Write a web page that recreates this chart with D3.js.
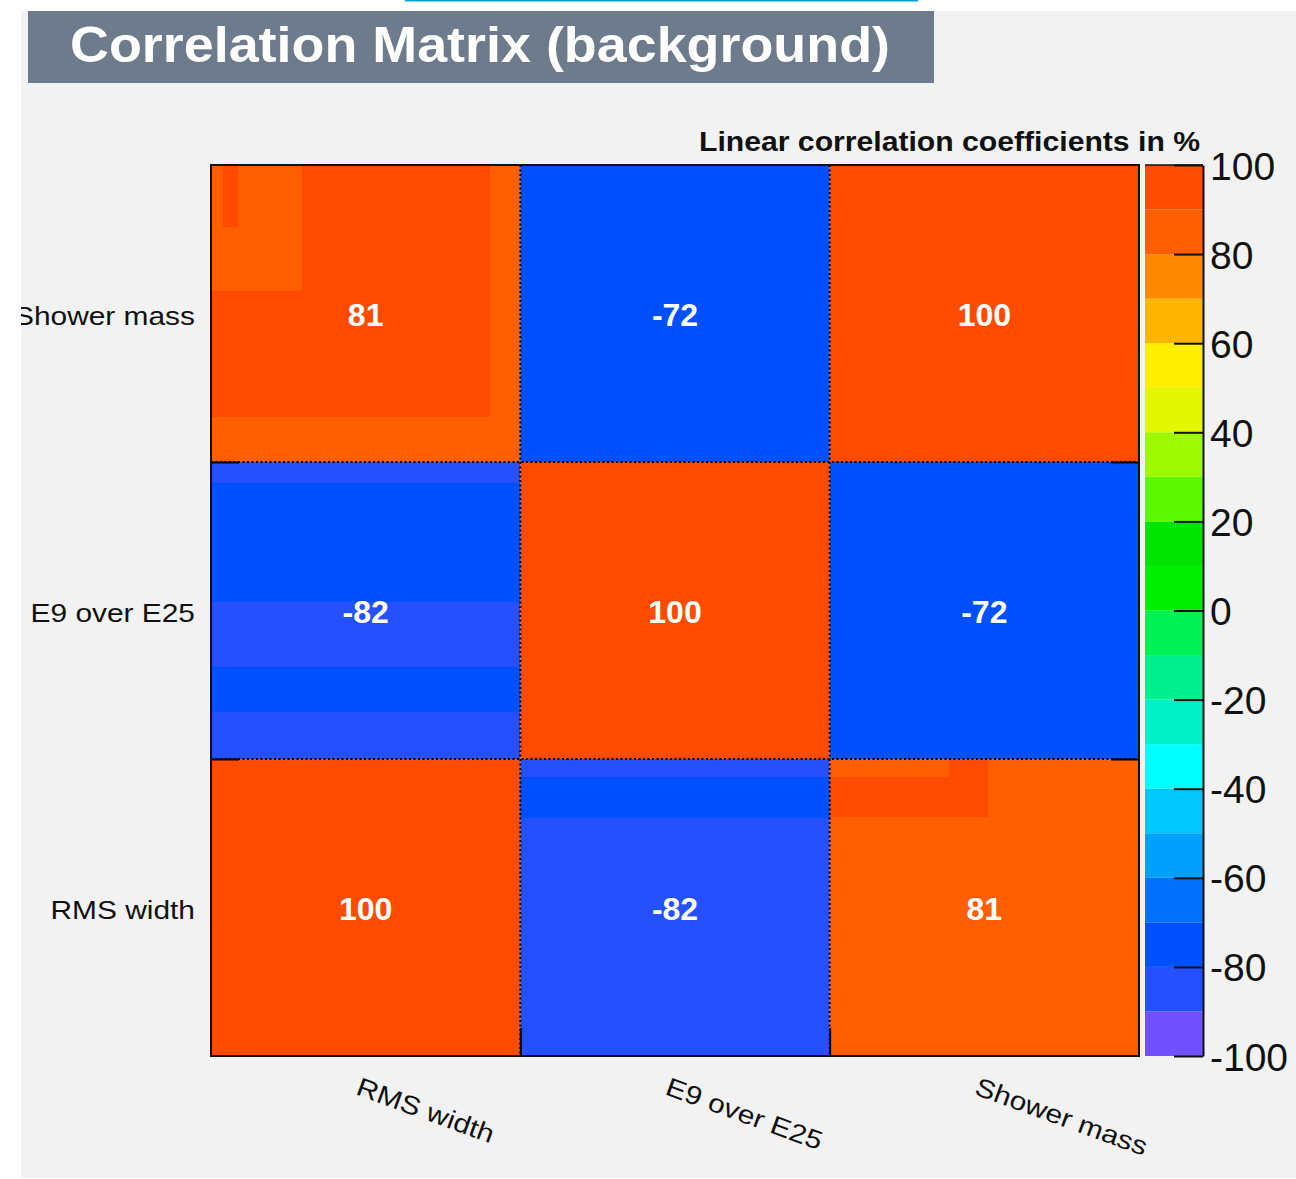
<!DOCTYPE html>
<html>
<head>
<meta charset="utf-8">
<script src="https://cdn.jsdelivr.net/npm/d3@7"></script>
<style>
  body { margin: 0; background: #ffffff; }
  text { font-family: 'Liberation Sans', Arial, Helvetica, sans-serif; }
  .cellText { fill: #ffffff; font-weight: bold; font-size: 32px; }
  .varLabel { fill: #111111; font-size: 26px; }
  .zAxis text { font-size: 39px; fill: #111111; font-family: 'Liberation Sans', Arial, sans-serif; }
  .gridline { stroke: #000000; stroke-width: 2; stroke-dasharray: 2,2.5; }
</style>
</head>
<body>
<div id="chart"></div>
<script>
var chartTitle = 'Correlation Matrix (background)'
var zAxisLabel = 'Linear correlation coefficients in %'

// variables, bottom-to-top on y and left-to-right on x
var variables = ['RMS width', 'E9 over E25', 'Shower mass']

// correlation in %, rows follow the y order, columns the x order
var corrRMS    = [100, -82, 81]
var corrE9     = [-82, 100, -72]
var corrShower = [81, -72, 100]
var corrRows = [corrRMS, corrE9, corrShower]

// 20 colour levels from -100 to 100
var palette = ['#7050ff','#2450ff','#0050ff','#0070ff','#00a0ff','#00c8ff','#00ffff','#00f0c8','#00f090','#00f055',
               '#00ee00','#00e400','#5cf800','#9df800','#e3f800','#ffee00','#ffb600','#ff8a00','#ff5f00','#ff4b00']
var zTicks = [-100, -80, -60, -40, -20, 0, 20, 40, 60, 80, 100]

// shading left over inside the cells (axis units x0,x1,y0,y1 and level)
var shadeX0 = [0, 0, 0.039, 0, 0, 1, 2, 2]
var shadeX1 = [0.902, 0.294, 0.087, 1, 1, 2, 2.512, 2.386]
var shadeY0 = [2.152, 2.576, 2.791, 1.529, 1.158, 0.801, 0.805, 0.939]
var shadeY1 = [3, 3, 3, 1.929, 1.310, 0.939, 1, 1]
var shadeLevel = [95, 85, 95, -75, -75, -75, 95, 85]

var margin,width,height;
var xScale,yScale,zScale,color;
var svg,g;

function GenerateGlobals() {
  margin = {top:165,left:211}
  width = 1139 - 211
  height = 1056 - 165

  xScale = d3.scaleLinear().range([0,width]).domain([0,3]);
  yScale = d3.scaleLinear().range([height,0]).domain([0,3]);
  zScale = d3.scaleLinear().range([height,0]).domain([-100,100]);

  color = d3.scaleQuantize().domain([-100,100]).range(palette);

  svg = d3.select('#chart')
      .append('svg')
      .attr('width','1296px')
      .attr('height','1179px');

  svg.append('defs').append('clipPath')
      .attr('id','canvasClip')
      .append('rect')
      .attr('x',21).attr('y',11)
      .attr('width',1296-21).attr('height',1178-11);

  // link underline left at the top of the page
  svg.append('rect')
      .attr('x',405).attr('y',0)
      .attr('width',513).attr('height',1.5)
      .attr('fill','#00a0e0');

  var canvas = svg.append('g').attr('clip-path','url(#canvasClip)');
  canvas.append('rect')
      .attr('x',21).attr('y',11)
      .attr('width',1296-21).attr('height',1178-11)
      .attr('fill','#f2f2f2');

  // title pave
  canvas.append('rect')
      .attr('x',28).attr('y',11)
      .attr('width',906).attr('height',72)
      .attr('fill','#6d7b8d');
  canvas.append('text')
      .attr('x',70).attr('y',62)
      .attr('fill','#ffffff')
      .style('font-weight','bold')
      .style('font-size','50px')
      .attr('textLength',820)
      .attr('lengthAdjust','spacingAndGlyphs')
      .text(chartTitle);

  g = canvas.append('g')
      .attr('id','chartGroup')
      .attr('transform','translate(' + margin.left + ',' + margin.top + ')');
}

function DrawData() {
  var cells = [];
  corrRows.forEach(function(row,i) {
    row.forEach(function(v,j) { cells.push({col:j,row:i,value:v}); });
  });

  g.append('g').attr('id','cells')
    .selectAll('rect')
    .data(cells)
    .enter()
    .append('rect')
    .attr('x',function(d) {return xScale(d.col); })
    .attr('y',function(d) {return yScale(d.row+1); })
    .attr('width',function(d) {return xScale(d.col+1) - xScale(d.col); })
    .attr('height',function(d) {return yScale(d.row) - yScale(d.row+1); })
    .attr('fill',function(d) {return color(d.value); });

  var shades = shadeLevel.map(function(v,i) {
    return {x0:shadeX0[i], x1:shadeX1[i], y0:shadeY0[i], y1:shadeY1[i], value:v};
  });
  g.append('g').attr('id','shades')
    .selectAll('rect')
    .data(shades)
    .enter()
    .append('rect')
    .attr('x',function(d) {return xScale(d.x0); })
    .attr('y',function(d) {return yScale(d.y1); })
    .attr('width',function(d) {return xScale(d.x1) - xScale(d.x0); })
    .attr('height',function(d) {return yScale(d.y0) - yScale(d.y1); })
    .attr('fill',function(d) {return color(d.value); });

  g.append('g').attr('id','cellText')
    .selectAll('text')
    .data(cells)
    .enter()
    .append('text')
    .attr('class','cellText')
    .attr('x',function(d) {return xScale(d.col+0.5); })
    .attr('y',function(d) {return yScale(d.row+0.5) + 12; })
    .attr('text-anchor','middle')
    .text(function(d) {return d.value; });
}

function DrawStatics() {
  // dotted bin borders
  [1,2].forEach(function(k) {
    g.append('line').attr('class','gridline')
      .attr('x1',xScale(k)).attr('x2',xScale(k))
      .attr('y1',0).attr('y2',height);
    g.append('line').attr('class','gridline')
      .attr('x1',0).attr('x2',width)
      .attr('y1',yScale(k)).attr('y2',yScale(k));
  });

  // ticks on the frame
  g.append('g')
    .attr('transform','translate(0,' + height + ')')
    .call(d3.axisBottom(xScale).tickValues([1,2]).tickSizeInner(-28).tickSizeOuter(0).tickFormat(''))
    .call(function(a) { a.select('.domain').remove(); a.selectAll('line').attr('stroke-width',2); });
  g.append('g')
    .call(d3.axisLeft(yScale).tickValues([1,2]).tickSizeInner(-28).tickSizeOuter(0).tickFormat(''))
    .call(function(a) { a.select('.domain').remove(); a.selectAll('line').attr('stroke-width',2); });
  g.append('g')
    .attr('transform','translate(' + width + ',0)')
    .call(d3.axisRight(yScale).tickValues([1,2]).tickSizeInner(-28).tickSizeOuter(0).tickFormat(''))
    .call(function(a) { a.select('.domain').remove(); a.selectAll('line').attr('stroke-width',2); });

  // frame
  g.append('rect')
    .attr('x',0).attr('y',0)
    .attr('width',width).attr('height',height)
    .attr('fill','none')
    .attr('stroke','#111111')
    .attr('stroke-width',2);

  // y labels
  g.append('g').selectAll('text')
    .data(variables)
    .enter()
    .append('text')
    .attr('class','varLabel')
    .attr('text-anchor','end')
    .attr('transform',function(d,i) {return 'translate(-16,' + (yScale(i+0.5) + 11) + ') scale(1.15,1)'; })
    .text(function(d) {return d; });

  // x labels, slanted
  g.append('g').selectAll('text')
    .data(variables)
    .enter()
    .append('text')
    .attr('class','varLabel')
    .attr('transform',function(d,i) {return 'translate(' + (xScale(i+0.5) - 11) + ',' + (height + 38) + ') rotate(20) scale(1.15,1)'; })
    .text(function(d) {return d; });
}

function DrawLegend() {
  var legendG = g.append('g')
      .attr('class','legendG')
      .attr('transform','translate(' + (1145 - margin.left) + ',0)');

  var levels = d3.range(20).map(function(i) {return -100 + i*10; });
  legendG.selectAll('rect')
    .data(levels)
    .enter()
    .append('rect')
    .attr('x',0)
    .attr('y',function(d) {return zScale(d+10); })
    .attr('width',58)
    .attr('height',function(d) {return zScale(d) - zScale(d+10); })
    .attr('fill',function(d) {return color(d+5); });

  legendG.append('g')
    .attr('class','zAxis')
    .attr('transform','translate(58,0)')
    .call(d3.axisRight(zScale).tickValues(zTicks).tickSizeInner(-29).tickSizeOuter(0).tickPadding(7).tickFormat(function(d) {return String(d); }))
    .call(function(a) {
      a.select('.domain').attr('stroke','#111111').attr('stroke-width',2);
      a.selectAll('line').attr('stroke','#111111').attr('stroke-width',2);
      a.selectAll('text').attr('dy','0.36em');
    });

  legendG.append('line')
    .attr('x1',0).attr('x2',58)
    .attr('y1',0).attr('y2',0)
    .attr('stroke','#111111').attr('stroke-width',1.5);

  g.append('text')
    .attr('x',699 - margin.left)
    .attr('y',151 - margin.top)
    .attr('fill','#111111')
    .style('font-weight','bold')
    .style('font-size','27px')
    .attr('textLength',501)
    .attr('lengthAdjust','spacingAndGlyphs')
    .text(zAxisLabel);
}

function DrawChart() {
  GenerateGlobals();
  DrawData();
  DrawStatics();
  DrawLegend();
}

DrawChart();
</script>
</body>
</html>
